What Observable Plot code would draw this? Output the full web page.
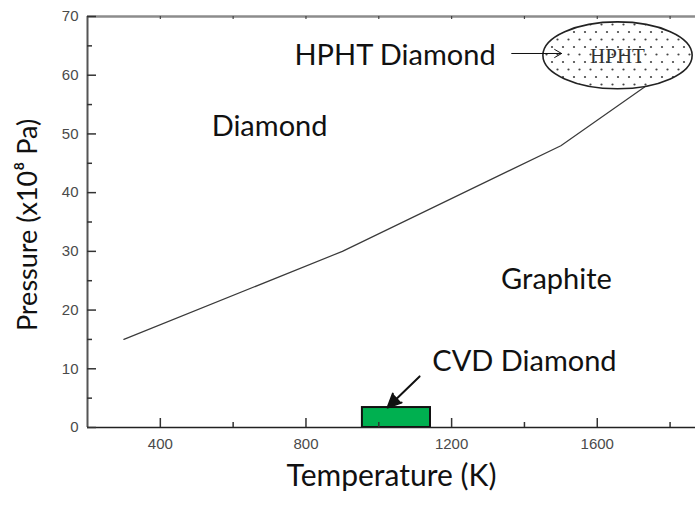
<!DOCTYPE html>
<html><head><meta charset="utf-8">
<script src="https://cdn.jsdelivr.net/npm/d3@7"></script>
<script src="https://cdn.jsdelivr.net/npm/@observablehq/plot@0.6"></script>
<style>
body{margin:0;background:#fff;}
#chart svg{overflow:hidden;display:block;}
</style></head><body><div id="chart"></div>
<script>
// ---- data ----
const boundaryT = [300, 900, 1500, 1730];
const boundaryP = [15, 30, 48, 58];
const xMajor = [400, 800, 1200, 1600];
const xMinor = [600, 1000, 1400, 1800];
const xTop = [400, 600, 800, 1000, 1200, 1400, 1600, 1800];
const yMajor = [0, 10, 20, 30, 40, 50, 60, 70];
const yMinor = [5, 15, 25, 35, 45, 55, 65];
const regionNames = ["Diamond", "Graphite"];
const regionT = [700, 1488];
const regionP = [51.3, 25.2];
const cvdT = [955, 1142];
const cvdP = [0, 3.4];
const hphtCenterT = 1657, hphtCenterP = 63.3;
const hphtRadiusT = 205, hphtRadiusP = 5.7;
const hphtLabel = "HPHT Diamond", hphtLabelT = 1321, hphtLabelP = 63.4;
const cvdLabel = "CVD Diamond", cvdLabelT = 1400, cvdLabelP = 11.2;
const hphtArrowT = [1365, 1502], hphtArrowP = [63.7, 63.7];
const cvdArrowT = [1112, 1024], cvdArrowP = [8.7, 3.4];

const big = "Lato, 'Open Sans', sans-serif";
const small = "'Liberation Sans', Arial, sans-serif";
const bigSize = 29;

const boundary = boundaryT.map((t, i) => ({T: t, P: boundaryP[i]}));

const plot = Plot.plot({
  width: 695, height: 506,
  marginLeft: 87, marginRight: 0, marginTop: 16, marginBottom: 79,
  x: {domain: [200, 1900], range: [87, 706], axis: null},
  y: {domain: [0, 70], range: [427, 16], axis: null},
  style: {background: "white", overflow: "hidden"},
  marks: [
    Plot.ruleY([70], {stroke: "#8c8c8c", strokeWidth: 2.5}),
    Plot.ruleX(xTop, {x: d => d, y1: 70, y2: 70, insetBottom: -3, stroke: "#444", strokeWidth: 1.2}),
    Plot.line(boundary, {x: "T", y: "P", stroke: "#3a3a3a", strokeWidth: 1.2}),
    Plot.rect([0], {x1: () => cvdT[0], x2: () => cvdT[1], y1: () => cvdP[0], y2: () => cvdP[1], fill: "#00b050", stroke: "#111", strokeWidth: 2}),
    Plot.ruleX([200], {stroke: "#555", strokeWidth: 2}),
    Plot.ruleY([0], {stroke: "#222", strokeWidth: 1.5}),
    Plot.ruleX(xMajor, {x: d => d, y1: 0, y2: 0, insetTop: -9, stroke: "#333", strokeWidth: 1.5}),
    Plot.ruleX(xMinor, {x: d => d, y1: 0, y2: 0, insetTop: -5, stroke: "#333", strokeWidth: 1.5}),
    Plot.ruleY(yMajor, {y: d => d, x1: 200, x2: 200, insetRight: -9, stroke: "#333", strokeWidth: 1.5}),
    Plot.ruleY(yMinor, {y: d => d, x1: 200, x2: 200, insetRight: -5, stroke: "#333", strokeWidth: 1.5}),
    Plot.text(xMajor, {x: d => d, y: 0, dy: 17, text: d => String(d), fontSize: 15, fontFamily: small, fill: "#4a4a4a"}),
    Plot.text(yMajor, {x: 200, y: d => d, dx: -9, text: d => String(d), textAnchor: "end", fontSize: 15, fontFamily: small, fill: "#4a4a4a"}),
    Plot.text(regionNames, {x: (d, i) => regionT[i], y: (d, i) => regionP[i], text: d => d, fontSize: bigSize, fontFamily: big, fill: "#111"}),
    Plot.text([hphtLabel], {x: () => hphtLabelT, y: () => hphtLabelP, text: d => d, textAnchor: "end", fontSize: bigSize, fontFamily: big, fill: "#111"}),
    Plot.text([cvdLabel], {x: () => cvdLabelT, y: () => cvdLabelP, text: d => d, fontSize: bigSize, fontFamily: big, fill: "#111"}),
    Plot.arrow([0], {x1: () => hphtArrowT[0], x2: () => hphtArrowT[1], y1: () => hphtArrowP[0], y2: () => hphtArrowP[1], stroke: "#111", strokeWidth: 1, headLength: 12, headAngle: 60}),
    Plot.arrow([0], {x1: () => cvdArrowT[0], x2: () => cvdArrowT[1], y1: () => cvdArrowP[0], y2: () => cvdArrowP[1], stroke: "#111", fill: "#111", strokeWidth: 2, headLength: 16, headAngle: 50}),
    Plot.text(["Temperature (K)"], {frameAnchor: "bottom", dy: 58, text: d => d, fontSize: 30, fontFamily: big, fill: "#111"}),
    Plot.text(["Pressure (x10⁸ Pa)"], {frameAnchor: "left", textAnchor: "middle", dx: -59, dy: 3, rotate: -90, text: d => d, fontSize: 27, fontFamily: big, fill: "#111"})
  ]
});

document.getElementById("chart").appendChild(plot);

// HPHT region ellipse drawn through the plot's scales
const sx = plot.scale("x"), sy = plot.scale("y");
const svg = d3.select(plot);
const defs = svg.insert("defs", ":first-child");
const pat = defs.append("pattern").attr("id", "hphtDots").attr("patternUnits", "userSpaceOnUse")
  .attr("width", 11).attr("height", 15);
pat.append("rect").attr("width", 11).attr("height", 15).attr("fill", "white");
pat.append("circle").attr("cx", 2).attr("cy", 2).attr("r", 1.1).attr("fill", "#444");
pat.append("circle").attr("cx", 7.5).attr("cy", 9.5).attr("r", 1.1).attr("fill", "#444");
const cx = sx.apply(hphtCenterT), cy = sy.apply(hphtCenterP);
const rx = sx.apply(hphtCenterT + hphtRadiusT) - cx, ry = cy - sy.apply(hphtCenterP + hphtRadiusP);
const g = svg.append("g");
g.append("ellipse").attr("cx", cx).attr("cy", cy).attr("rx", rx).attr("ry", ry)
  .attr("fill", "url(#hphtDots)").attr("stroke", "#222").attr("stroke-width", 1.6);
g.append("text").attr("x", cx).attr("y", cy).attr("dy", "0.35em").attr("text-anchor", "middle")
  .attr("font-family", "'Liberation Serif', 'DejaVu Serif', serif").attr("font-size", 21)
  .attr("fill", "#333").text("HPHT");
// keep the arrows above the ellipse
svg.selectAll('[aria-label="arrow"]').raise();
</script></body></html>
